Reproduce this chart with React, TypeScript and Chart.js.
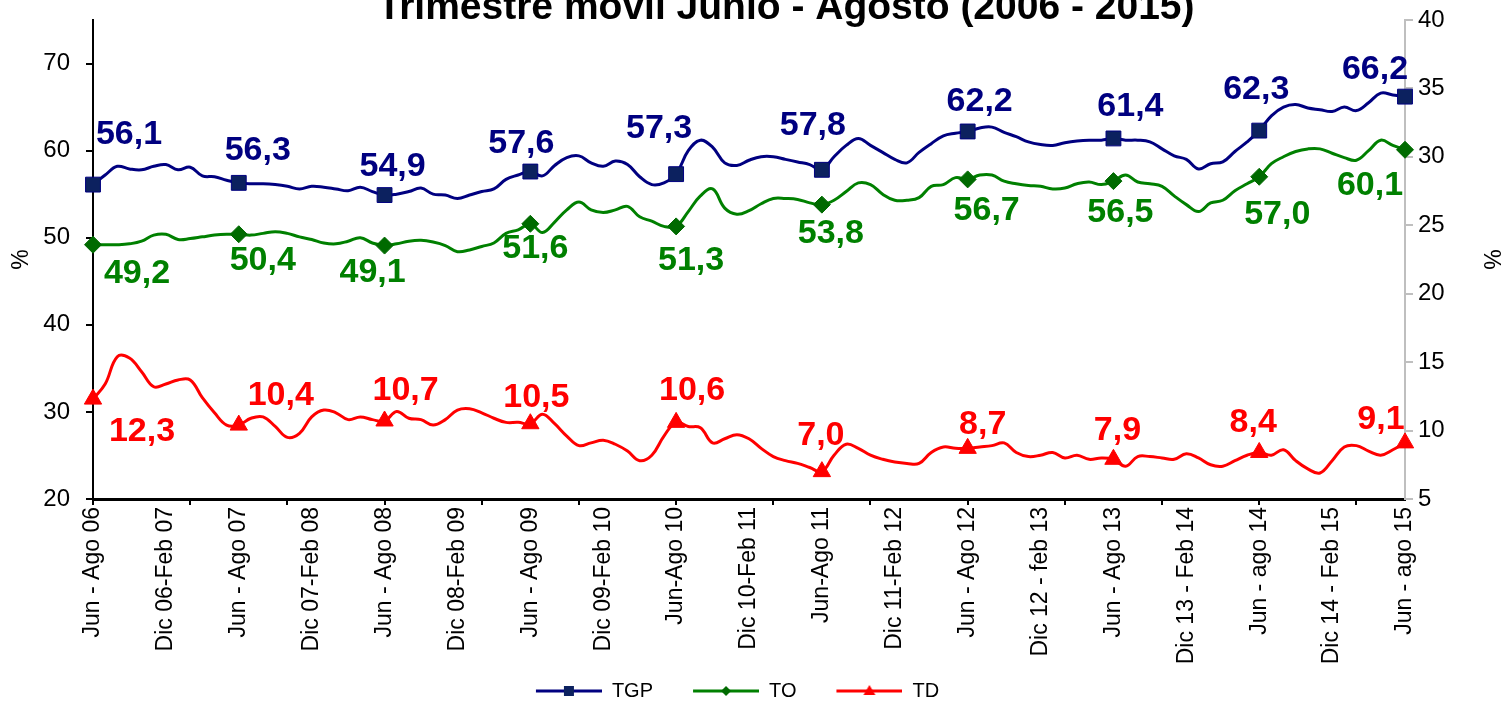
import React, { useEffect, useRef } from 'react';
import { Chart, registerables } from 'chart.js';

Chart.register(...registerables);

const TITLE = 'Trimestre móvil Junio - Agosto (2006 - 2015)';

// Tick labels shown every 6 rolling quarters (109 monthly rolling quarters in total)
const tickLabels = [
  'Jun - Ago 06', 'Dic 06-Feb 07', 'Jun - Ago 07', 'Dic 07-Feb 08', 'Jun - Ago 08',
  'Dic 08-Feb 09', 'Jun - Ago 09', 'Dic 09-Feb 10', 'Jun-Ago 10', 'Dic 10-Feb 11',
  'Jun-Ago 11', 'Dic 11-Feb 12', 'Jun - Ago 12', 'Dic 12 - feb 13', 'Jun - Ago 13',
  'Dic 13 - Feb 14', 'Jun - ago 14', 'Dic 14 - Feb 15', 'Jun - ago 15',
];

const seriesNames = ['TGP', 'TO', 'TD'];

const tgp = [
  56.1, 57.2, 58.2, 57.9, 57.8, 58.2, 58.4, 57.8, 58.1, 57.1, 57.0, 56.6,
  56.3, 56.2, 56.2, 56.1, 55.9, 55.6, 55.9, 55.8, 55.6, 55.4, 55.8, 55.3,
  54.9, 55.0, 55.3, 55.7, 55.0, 54.9, 54.5, 54.9, 55.3, 55.6, 56.7, 57.2,
  57.6, 57.1, 58.3, 59.2, 59.4, 58.6, 58.2, 58.8, 58.4, 57.0, 56.1, 56.3,
  57.3, 60.0, 61.2, 60.4, 58.6, 58.3, 58.9, 59.3, 59.3, 59.0, 58.7, 58.4,
  57.8, 59.3, 60.6, 61.4, 60.6, 59.8, 59.0, 58.6, 59.8, 60.8, 61.7, 62.0,
  62.2, 62.6, 62.7, 62.1, 61.6, 61.0, 60.7, 60.6, 60.9, 61.1, 61.2, 61.2,
  61.4, 61.2, 61.2, 61.0, 60.2, 59.4, 59.0, 57.9, 58.5, 58.7, 59.9, 61.0,
  62.3, 64.0, 65.0, 65.3, 64.9, 64.7, 64.5, 65.0, 64.6, 65.5, 66.6, 66.4,
  66.2,
];

const to = [
  49.2, 49.2, 49.2, 49.3, 49.6, 50.3, 50.4, 49.8, 49.9, 50.1, 50.3, 50.4,
  50.4, 50.3, 50.5, 50.7, 50.5, 50.1, 49.8, 49.4, 49.3, 49.6, 50.0, 49.4,
  49.1, 49.3, 49.6, 49.7, 49.5, 49.1, 48.4, 48.6, 49.0, 49.4, 50.5, 50.9,
  51.6, 50.6, 51.8, 53.2, 54.1, 53.2, 52.9, 53.2, 53.6, 52.4, 51.9, 51.3,
  51.3, 53.0, 54.8, 55.6, 53.4, 52.7, 53.1, 53.9, 54.5, 54.5, 54.4, 54.0,
  53.8, 54.3, 55.3, 56.3, 56.1, 55.0, 54.3, 54.3, 54.6, 55.9, 56.1, 56.9,
  56.7, 57.2, 57.2, 56.5, 56.2, 56.0, 55.9, 55.6, 55.7, 56.2, 56.4, 56.1,
  56.5, 57.2, 56.4, 56.2, 55.9, 54.8, 53.8, 53.0, 54.0, 54.3, 55.4, 56.2,
  57.0, 58.5, 59.3, 59.9, 60.2, 60.2, 59.7, 59.2, 58.9, 60.0, 61.2, 60.6,
  60.1,
];

const td = [
  12.3, 13.4, 15.4, 15.3, 14.3, 13.2, 13.4, 13.7, 13.7, 12.4, 11.3, 10.4,
  10.4, 10.9, 11.0, 10.3, 9.5, 9.8, 11.0, 11.5, 11.3, 10.8, 11.0, 10.8,
  10.7, 11.4, 10.9, 10.8, 10.4, 10.8, 11.5, 11.6, 11.3, 10.9, 10.6, 10.6,
  10.5, 11.2, 10.5, 9.6, 8.9, 9.1, 9.3, 9.0, 8.5, 7.8, 8.2, 9.6,
  10.6, 10.3, 10.2, 9.1, 9.4, 9.7, 9.4, 8.7, 8.1, 7.8, 7.6, 7.3,
  7.0, 8.2, 9.0, 8.7, 8.2, 7.9, 7.7, 7.6, 7.6, 8.4, 8.8, 8.7,
  8.7, 8.8, 8.9, 9.1, 8.4, 8.1, 8.2, 8.4, 8.0, 8.2, 7.9, 8.0,
  7.9, 7.4, 8.1, 8.1, 8.0, 7.9, 8.3, 8.0, 7.5, 7.4, 7.8, 8.2,
  8.4, 8.2, 8.6, 7.8, 7.2, 6.9, 7.8, 8.8, 8.9, 8.5, 8.2, 8.6,
  9.1,
];

// Offsets (px) of the value labels from their markers (one per Jun-Ago marker)
const tgpLabelOffsets = [[36, -50], [19, -32], [8, -28], [-9, -28], [-17, -46], [-9, -44], [12, -30], [17, -32], [-3, -41], [-30, -27]];
const toLabelOffsets = [[44, 29], [24, 26], [-12, 27], [5, 25], [15, 34], [9, 29], [19, 31], [7, 32], [18, 38], [-35, 36]];
const tdLabelOffsets = [[49, 33], [42, -29], [21, -30], [6, -26], [16, -32], [-1, -36], [15, -24], [4, -29], [-6, -30], [-24, -23]];

const FONT = '"Liberation Sans", Arial, sans-serif';
const NAVY = '#000080';
const NAVY_FILL = '#0C215F';
const GREEN = '#008000';
const GREEN_FILL = '#006A00';
const RED = '#FF0000';

const categories: string[] = tgp.map((_, i) => (i % 6 === 0 ? tickLabels[i / 6] : ''));

const fmt = (v: number) => v.toFixed(1).replace('.', ',');

const ICON_BLANK = 32;
const LEGEND_SHIFT_X = -29;

function makeIcon(line: string, fill: string, shape: string): HTMLCanvasElement {
  const c = document.createElement('canvas');
  c.width = 66 + ICON_BLANK;
  c.height = 14;
  const g = c.getContext('2d') as CanvasRenderingContext2D;
  const x0 = ICON_BLANK;
  g.strokeStyle = line;
  g.lineWidth = 3;
  g.beginPath();
  g.moveTo(x0, 7);
  g.lineTo(x0 + 66, 7);
  g.stroke();
  g.fillStyle = fill;
  const cx = x0 + 33;
  const cy = 7;
  g.beginPath();
  if (shape === 'rect') {
    g.rect(cx - 5, cy - 5, 10, 10);
  } else if (shape === 'rectRot') {
    g.moveTo(cx, cy - 5);
    g.lineTo(cx + 5, cy);
    g.lineTo(cx, cy + 5);
    g.lineTo(cx - 5, cy);
    g.closePath();
  } else {
    g.moveTo(cx, cy - 6);
    g.lineTo(cx + 6, cy + 4);
    g.lineTo(cx - 6, cy + 4);
    g.closePath();
  }
  g.fill();
  return c;
}

export default function App() {
  const ref = useRef<HTMLCanvasElement | null>(null);

  useEffect(() => {
    if (!ref.current) return;
    const icons = [
      makeIcon(NAVY, NAVY_FILL, 'rect'),
      makeIcon(GREEN, GREEN_FILL, 'rectRot'),
      makeIcon(RED, RED, 'triangle'),
    ];
    const labelCfg = [
      { offsets: tgpLabelOffsets, color: NAVY },
      { offsets: toLabelOffsets, color: GREEN },
      { offsets: tdLabelOffsets, color: RED },
    ];

    const titlePlugin = {
      id: 'topTitle',
      afterDraw(chart: any) {
        const ctx = chart.ctx;
        ctx.save();
        ctx.font = `bold 39px ${FONT}`;
        ctx.fillStyle = '#000';
        ctx.textAlign = 'center';
        ctx.textBaseline = 'alphabetic';
        ctx.fillText(TITLE, 786, 19);
        ctx.restore();
      },
    };

    const legendShift = {
      id: 'legendShift',
      afterLayout(chart: any) {
        const lg = chart.legend;
        if (!lg) return;
        lg.left += LEGEND_SHIFT_X;
        lg.right += LEGEND_SHIFT_X;
      },
    };

    const valueLabels = {
      id: 'valueLabels',
      afterDatasetsDraw(chart: any) {
        const ctx = chart.ctx;
        ctx.save();
        ctx.font = `bold 34px ${FONT}`;
        ctx.textAlign = 'center';
        ctx.textBaseline = 'middle';
        labelCfg.forEach((cfg, di) => {
          const meta = chart.getDatasetMeta(di);
          const data = chart.data.datasets[di].data as number[];
          ctx.fillStyle = cfg.color;
          cfg.offsets.forEach(([dx, dy], k) => {
            const idx = k * 12;
            const pt = meta.data[idx];
            if (!pt) return;
            ctx.fillText(fmt(data[idx]), pt.x + dx, pt.y + dy);
          });
        });
        ctx.restore();
      },
    };

    const markerRadius = (r: number) => (c: any) => (c.dataIndex % 12 === 0 ? r : 0);

    const chart = new Chart(ref.current, {
      type: 'line',
      data: {
        labels: categories,
        datasets: [
          {
            label: seriesNames[0],
            data: tgp,
            yAxisID: 'y',
            borderColor: NAVY,
            backgroundColor: NAVY_FILL,
            borderWidth: 3,
            tension: 0.4,
            pointStyle: 'rect',
            pointRadius: markerRadius(10.5),
            pointBackgroundColor: NAVY_FILL,
            pointBorderColor: NAVY,
            pointBorderWidth: 1,
          },
          {
            label: seriesNames[1],
            data: to,
            yAxisID: 'y',
            borderColor: GREEN,
            backgroundColor: GREEN_FILL,
            borderWidth: 3,
            tension: 0.4,
            pointStyle: 'rectRot',
            pointRadius: markerRadius(8.5),
            pointBackgroundColor: GREEN_FILL,
            pointBorderColor: GREEN_FILL,
            pointBorderWidth: 1,
          },
          {
            label: seriesNames[2],
            data: td,
            yAxisID: 'y1',
            borderColor: RED,
            backgroundColor: RED,
            borderWidth: 3,
            tension: 0.4,
            pointStyle: 'triangle',
            pointRadius: markerRadius(10),
            pointBackgroundColor: RED,
            pointBorderColor: RED,
            pointBorderWidth: 1,
          },
        ],
      },
      options: {
        responsive: false,
        animation: false,
        events: [],
        layout: { padding: { top: 20, left: 0, right: 0, bottom: -8 } },
        plugins: {
          tooltip: { enabled: false },
          legend: {
            position: 'bottom',
            labels: {
              usePointStyle: true,
              pointStyleWidth: 66 + ICON_BLANK,
              padding: 8,
              color: '#000',
              font: { family: FONT, size: 20 },
              generateLabels: (ch: any) => {
                const items = (Chart.defaults.plugins.legend.labels as any).generateLabels(ch);
                return items.map((it: any, k: number) => ({ ...it, pointStyle: icons[k], rotation: 0 }));
              },
            },
          },
        },
        scales: {
          x: {
            type: 'category',
            offset: false,
            border: { color: '#000', width: 3 },
            grid: {
              drawOnChartArea: false,
              tickLength: 6,
              lineWidth: 2,
              color: (c: any) => (c.index % 8 === 0 ? '#000' : 'rgba(0,0,0,0)'),
            },
            ticks: {
              autoSkip: false,
              maxRotation: 90,
              minRotation: 90,
              padding: 2,
              color: '#000',
              font: { family: FONT, size: 23 },
            },
            afterFit: (s: any) => {
              s.height = 174;
            },
          },
          y: {
            position: 'left',
            min: 20,
            max: 75,
            border: { color: '#000', width: 2 },
            grid: { drawOnChartArea: false, tickLength: 7, lineWidth: 2, color: '#000' },
            ticks: {
              stepSize: 10,
              includeBounds: false,
              padding: 16,
              color: '#000',
              font: { family: FONT, size: 24 },
            },
            title: {
              display: true,
              text: '%',
              color: '#000',
              font: { family: FONT, size: 23 },
              padding: { top: 8, bottom: 0 },
            },
            afterFit: (s: any) => {
              s.width = 93;
              s.paddingTop = 0;
              s.paddingBottom = 0;
            },
          },
          y1: {
            position: 'right',
            min: 5,
            max: 40,
            border: { color: '#BFBFBF', width: 2 },
            grid: { drawOnChartArea: false, tickLength: 8, lineWidth: 2, color: '#BFBFBF' },
            ticks: {
              stepSize: 5,
              padding: 5,
              color: '#000',
              font: { family: FONT, size: 24 },
            },
            title: {
              display: true,
              text: '%',
              color: '#000',
              font: { family: FONT, size: 23 },
              padding: { top: -3, bottom: 0 },
            },
            afterFit: (s: any) => {
              s.width = 96;
              s.paddingTop = 0;
              s.paddingBottom = 0;
            },
          },
        },
      } as any,
      plugins: [titlePlugin, valueLabels, legendShift],
    });
    return () => chart.destroy();
  }, []);

  return (
    <div style={{ position: 'absolute', left: 0, top: 0, width: 1501, height: 703, background: '#fff' }}>
      <canvas ref={ref} width={1501} height={703} style={{ display: 'block' }} />
    </div>
  );
}
